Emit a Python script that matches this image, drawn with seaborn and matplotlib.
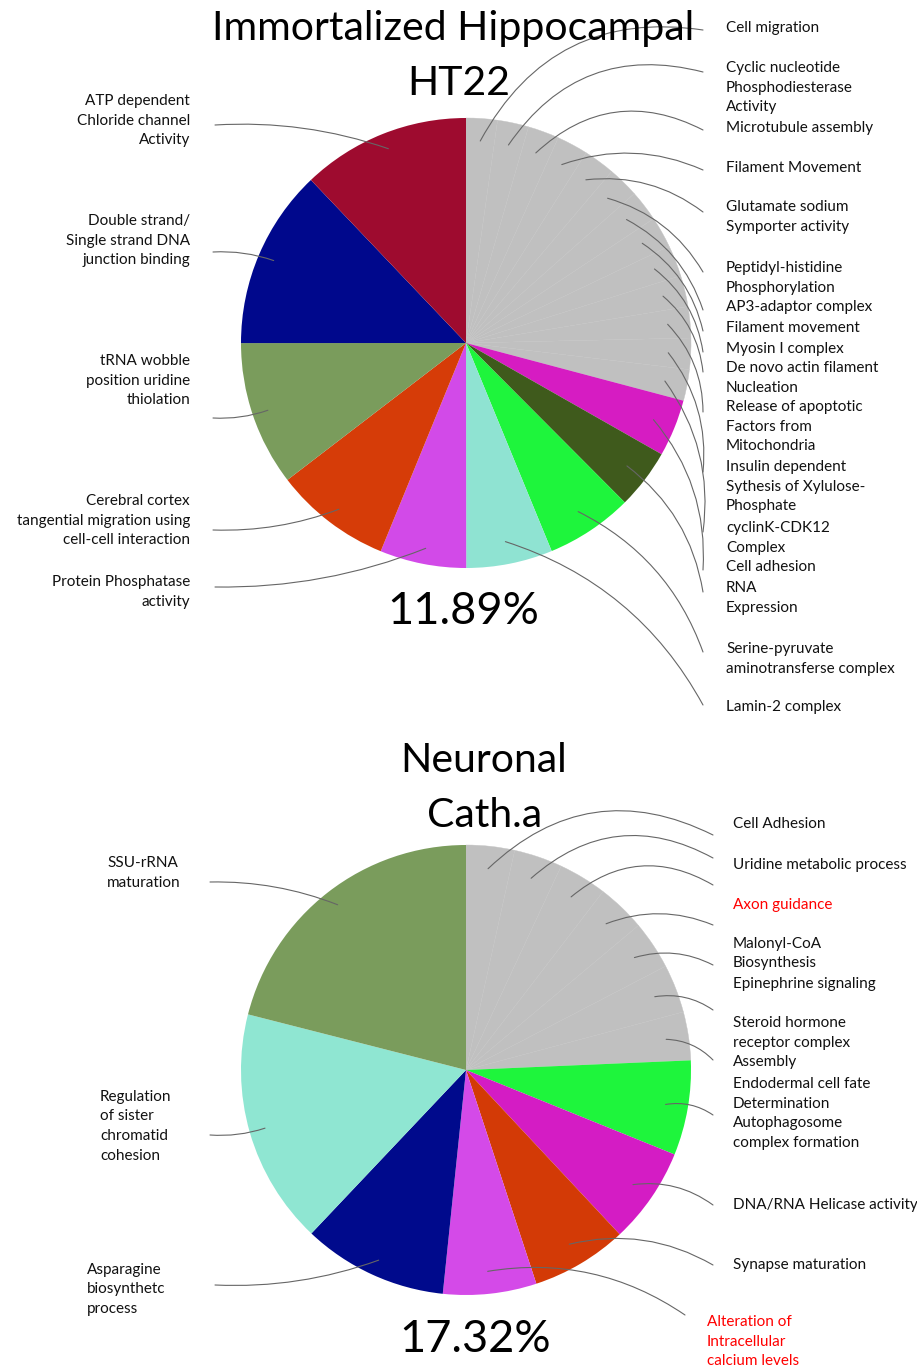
import numpy as np
import matplotlib
matplotlib.use("Agg")
import matplotlib.pyplot as plt
import seaborn as sns

W, H = 917, 1370

# ── Top pie : Immortalized Hippocampal HT22 (clockwise from 12 o'clock) ──
ht22_labels = [
    "Cell migration",
    "Cyclic nucleotide\nPhosphodiesterase\nActivity",
    "Microtubule assembly",
    "Filament Movement",
    "Glutamate sodium\nSymporter activity",
    "Peptidyl-histidine\nPhosphorylation",
    "AP3-adaptor complex",
    "Filament movement",
    "Myosin I complex",
    "De novo actin filament\nNucleation",
    "Release of apoptotic\nFactors from\nMitochondria",
    "Insulin dependent\nSythesis of Xylulose-\nPhosphate",
    "cyclinK-CDK12\nComplex",
    "Cell adhesion",
    "RNA\nExpression",
    "Serine-pyruvate\naminotransferse complex",
    "Lamin-2 complex",
    "Protein Phosphatase\nactivity",
    "Cerebral cortex\ntangential migration using\ncell-cell interaction",
    "tRNA wobble\nposition uridine\nthiolation",
    "Double strand/\nSingle strand DNA\njunction binding",
    "ATP dependent\nChloride channel\nActivity",
]
ht22_values = [2.24, 2.24, 2.24, 2.24, 2.24, 2.24, 2.24, 2.24, 2.24, 2.24,
               2.24, 2.24, 2.24, 4.1, 4.3, 6.25, 6.2, 6.2, 8.4, 10.4, 12.9, 12.1]
ht22_colors = ["#c0c0c0"] * 13 + ["#d61cc2", "#3f5a1c", "#1ef53c", "#8fe3d2",
                                  "#d24ae8", "#d63c08", "#7a9c5c", "#00088c", "#9e0b2f"]
ht22_pct = "11.89%"

# ── Bottom pie : Neuronal Cath.a ──
catha_labels = [
    "Cell Adhesion",
    "Uridine metabolic process",
    "Axon guidance",
    "Malonyl-CoA\nBiosynthesis",
    "Epinephrine signaling",
    "Steroid hormone\nreceptor complex\nAssembly",
    "Endodermal cell fate\nDetermination",
    "Autophagosome\ncomplex formation",
    "DNA/RNA Helicase activity",
    "Synapse maturation",
    "Alteration of\nIntracellular\ncalcium levels",
    "Asparagine\nbiosynthetc\nprocess",
    "Regulation\nof sister\nchromatid\ncohesion",
    "SSU-rRNA\nmaturation",
]
catha_values = [3.47, 3.47, 3.47, 3.47, 3.47, 3.47, 3.47,
                6.8, 6.9, 6.9, 6.7, 10.4, 16.9, 21.0]
catha_colors = ["#c0c0c0"] * 7 + ["#1ef53c", "#d41cc4", "#d33a06", "#d44ae8",
                                  "#000a8c", "#8fe6d2", "#7a9c5c"]
catha_red = ["Axon guidance", "Alteration of\nIntracellular\ncalcium levels"]
catha_pct = "17.32%"

# ── Layout (image pixels, y measured from top) ──
# text: (x, first line y, ha) ; line end: (x, y)
ht22_text = [(726, 28, "left"), (726, 68, "left"), (726, 128, "left"), (726, 168, "left"),
             (726, 207, "left"), (726, 268, "left"), (726, 307, "left"), (726, 328, "left"),
             (726, 349, "left"), (726, 368, "left"), (726, 407, "left"), (726, 467, "left"),
             (726, 528, "left"), (726, 567, "left"), (726, 588, "left"), (726, 649, "left"),
             (726, 707, "left"), (190, 582, "right"), (190, 501, "right"), (190, 361, "right"),
             (190, 221, "right"), (190, 101, "right")]
ht22_end = [(703, 30), (703, 72), (703, 130), (703, 170), (703, 212), (703, 272), (703, 310),
            (703, 331), (703, 352), (703, 372), (703, 412), (703, 472), (703, 532),
            (703, 570), (703, 592), (703, 652), (703, 705), (215, 587), (213, 530),
            (213, 418), (213, 252), (215, 125)]
catha_text = [(733, 824, "left"), (733, 865, "left"), (733, 905, "left"), (733, 944, "left"),
              (733, 984, "left"), (733, 1023, "left"), (733, 1084, "left"), (733, 1123, "left"),
              (733, 1205, "left"), (733, 1265, "left"), (707, 1322, "left"),
              (87, 1270, "left"), (100, 1097, "left"), (107, 863, "left")]
catha_end = [(713, 835), (713, 858), (713, 885), (713, 925), (713, 965), (713, 1010),
             (713, 1060), (713, 1115), (713, 1205), (713, 1265), (685, 1315),
             (215, 1285), (210, 1135), (210, 882)]

sns.set_theme(style="white")
plt.rcParams["font.family"] = ["Lato", "DejaVu Sans"]

fig = plt.figure(figsize=(W / 100, H / 100), dpi=100)
ax = fig.add_axes([0, 0, 1, 1])


def Y(y):
    return H - y


def draw_pie(values, colors, labels, text_pos, ends, center, r, red=()):
    cx, cy = center[0], Y(center[1])
    wedges, _ = ax.pie(values, colors=colors, startangle=90, counterclock=False,
                       center=(cx, cy), radius=r,
                       wedgeprops=dict(linewidth=0))
    for w, c in zip(wedges, colors):
        if c == "#c0c0c0":
            w.set_edgecolor("#c4c4c4")
            w.set_linewidth(0.3)
    for w, lab, (tx, ty, ha), (ex, ey) in zip(wedges, labels, text_pos, ends):
        mid = np.deg2rad((w.theta1 + w.theta2) / 2)
        frac = 0.9 if tx > cx else 0.93
        ax_x = cx + frac * r * np.cos(mid)
        ax_y = cy + frac * r * np.sin(mid)
        if ex > cx:
            rad = 0.35 if Y(ey) > ax_y else 0.2
        else:
            rad = -0.1 if Y(ey) > ax_y else 0.1
        ax.annotate("", xy=(ax_x, ax_y), xytext=(ex, Y(ey)),
                    arrowprops=dict(arrowstyle="-", color="#666666", lw=0.8,
                                    shrinkA=0, shrinkB=0,
                                    connectionstyle=f"arc3,rad={rad}"))
        ax.text(tx, Y(ty) + 7, lab, ha=ha, va="top", fontsize=11,
                linespacing=1.5, color="#ff0000" if lab in red else "#111111",
                multialignment=ha)


draw_pie(ht22_values, ht22_colors, ht22_labels, ht22_text, ht22_end, (466, 343), 225)
draw_pie(catha_values, catha_colors, catha_labels, catha_text, catha_end, (466, 1070), 225,
         red=catha_red)

ax.text(453, Y(28), "Immortalized Hippocampal", ha="center", va="center", fontsize=29.5,
        color="black")
ax.text(459, Y(83), "HT22", ha="center", va="center", fontsize=29.5, color="black")
ax.text(463, Y(611), ht22_pct, ha="center", va="center", fontsize=32.5, color="black")
ax.text(484, Y(760), "Neuronal", ha="center", va="center", fontsize=29.5, color="black")
ax.text(485, Y(815), "Cath.a", ha="center", va="center", fontsize=29.5, color="black")
ax.text(475, Y(1340), catha_pct, ha="center", va="center", fontsize=32.5, color="black")

ax.set_xlim(0, W)
ax.set_ylim(0, H)
ax.set_aspect("equal")
ax.axis("off")

fig.savefig("out.png", dpi=100, facecolor="white")
